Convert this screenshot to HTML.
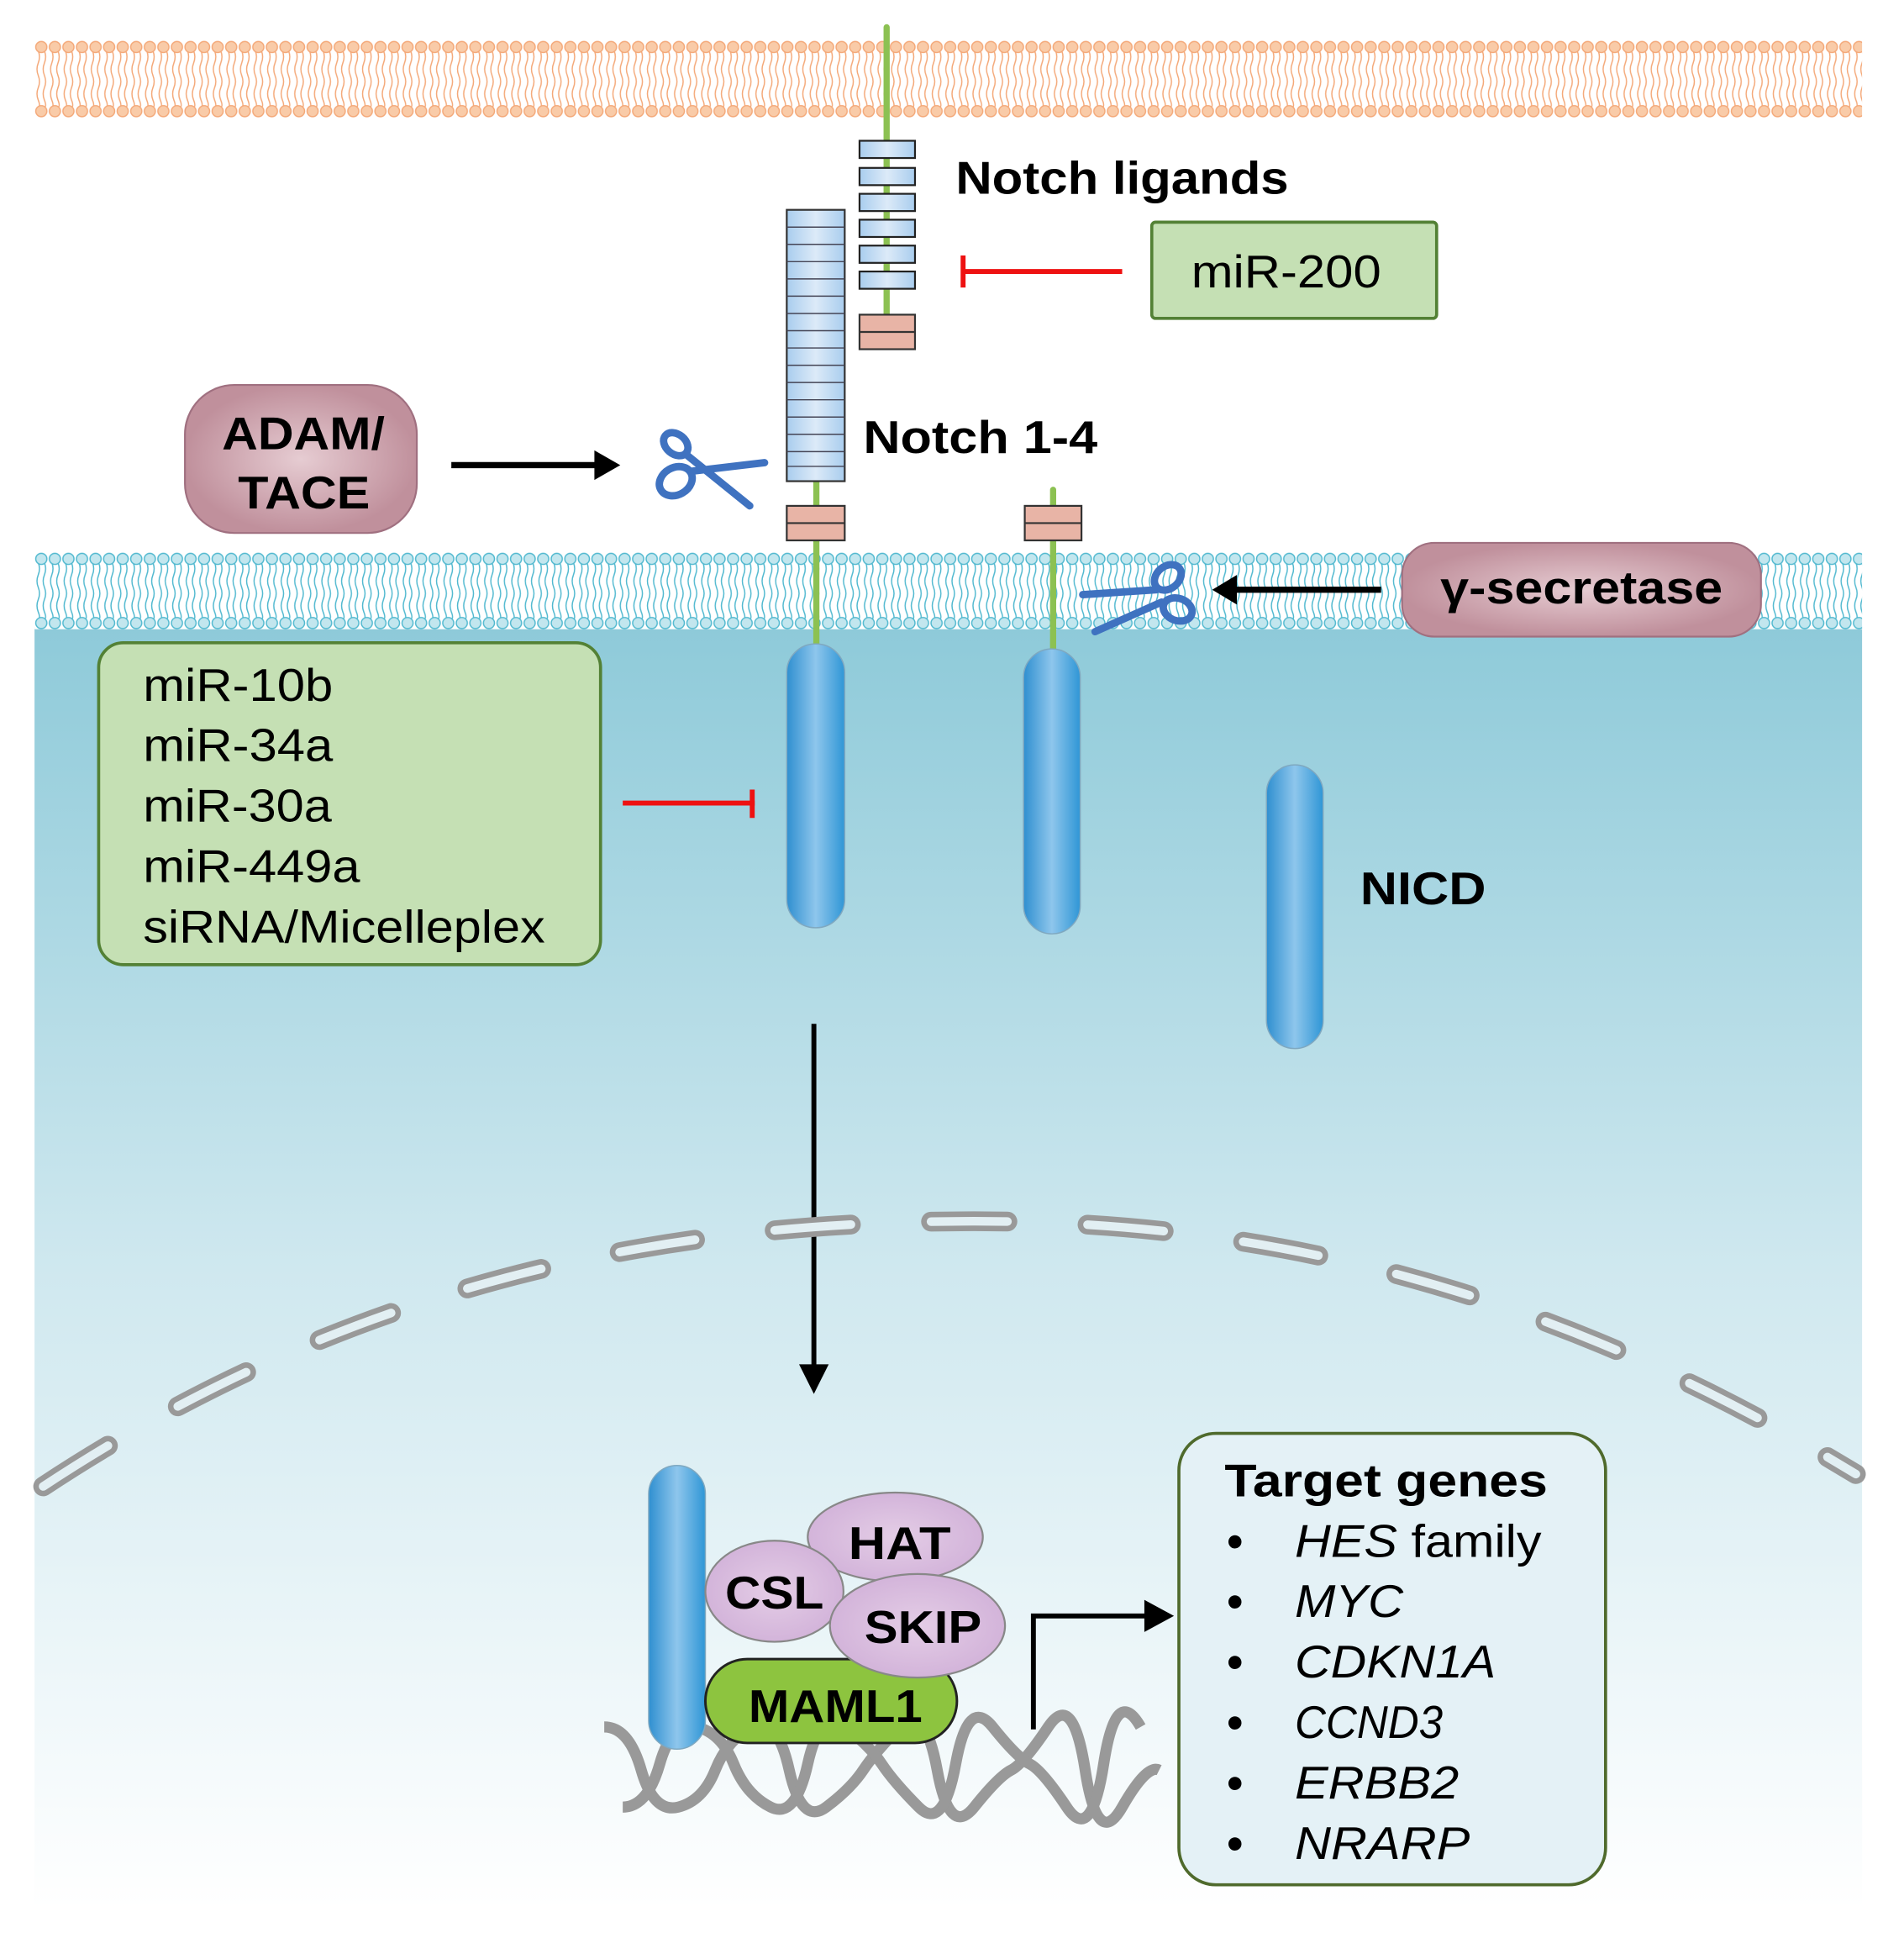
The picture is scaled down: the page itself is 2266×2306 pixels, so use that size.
<!DOCTYPE html>
<html><head><meta charset="utf-8"><style>html,body{margin:0;padding:0;background:#fff}svg{display:block}</style></head>
<body>
<svg width="2266" height="2306" viewBox="0 0 1544 1571" xmlns="http://www.w3.org/2000/svg" font-family="Liberation Sans, Arial, sans-serif">
<defs>
<linearGradient id="cyto" x1="0" y1="0" x2="0" y2="1">
<stop offset="0" stop-color="#8ecad9"/><stop offset="0.5" stop-color="#cfe8ef"/><stop offset="1" stop-color="#ffffff"/></linearGradient>
<pattern id="orm" x="28" y="33" width="11" height="62" patternUnits="userSpaceOnUse">
<path d="M3,8 q2,5 0,10 q-2,5 0,10 q2,5 0,10 q-2,5 0,10 q2,5 0,6 M8,8 q2,5 0,10 q-2,5 0,10 q2,5 0,10 q-2,5 0,10 q2,5 0,6" fill="none" stroke="#f4a878" stroke-width="1"/>
<circle cx="5.5" cy="5" r="4.5" fill="#f9cba8" stroke="#f4a878" stroke-width="1"/>
<circle cx="5.5" cy="57" r="4.5" fill="#f9cba8" stroke="#f4a878" stroke-width="1"/></pattern>
<pattern id="cym" x="28" y="448" width="11" height="62" patternUnits="userSpaceOnUse">
<path d="M3,8 q2,5 0,10 q-2,5 0,10 q2,5 0,10 q-2,5 0,10 q2,5 0,6 M8,8 q2,5 0,10 q-2,5 0,10 q2,5 0,10 q-2,5 0,10 q2,5 0,6" fill="none" stroke="#4fb8cf" stroke-width="1"/>
<circle cx="5.5" cy="5" r="4.5" fill="#c2e6ee" stroke="#4fb8cf" stroke-width="1"/>
<circle cx="5.5" cy="57" r="4.5" fill="#c2e6ee" stroke="#4fb8cf" stroke-width="1"/></pattern>
<linearGradient id="cap" x1="0" y1="0" x2="1" y2="0">
<stop offset="0" stop-color="#2f8fd0"/><stop offset="0.5" stop-color="#8ec6ec"/><stop offset="1" stop-color="#2f96d6"/></linearGradient>
<radialGradient id="mauve"><stop offset="0" stop-color="#e6ccd2"/><stop offset="1" stop-color="#c0909c"/></radialGradient>
<radialGradient id="lil"><stop offset="0" stop-color="#e4cde6"/><stop offset="1" stop-color="#d3b4da"/></radialGradient>
<linearGradient id="blk" x1="0" y1="0" x2="1" y2="0"><stop offset="0" stop-color="#a9cdee"/><stop offset="0.5" stop-color="#dceaf8"/><stop offset="1" stop-color="#a9cdee"/></linearGradient>
</defs>
<rect x="28" y="508" width="1482" height="1040" fill="url(#cyto)"/>
<rect x="28" y="33" width="1482" height="62" fill="url(#orm)"/>
<rect x="28" y="448" width="1482" height="62" fill="#ffffff"/>
<rect x="28" y="448" width="1482" height="62" fill="url(#cym)"/>

<line x1="719" y1="22" x2="719" y2="258" stroke="#8cc152" stroke-width="5" stroke-linecap="round"/>
<g stroke="#222" stroke-width="1.5" fill="url(#blk)">
<rect x="697" y="114" width="45" height="14"/><rect x="697" y="136" width="45" height="14"/>
<rect x="697" y="157" width="45" height="14"/><rect x="697" y="178" width="45" height="14"/>
<rect x="697" y="199" width="45" height="14"/><rect x="697" y="220" width="45" height="14"/></g>
<rect x="697" y="255" width="45" height="28" fill="#e8b4a6" stroke="#333" stroke-width="1.5"/>
<line x1="697" y1="269" x2="742" y2="269" stroke="#333" stroke-width="1.5"/>

<line x1="662" y1="388" x2="662" y2="525" stroke="#8cc152" stroke-width="5"/>
<rect x="638" y="170" width="47" height="220" fill="url(#blk)" stroke="#333" stroke-width="1.5"/>
<g stroke="#445" stroke-width="1">
<line x1="638" y1="184" x2="685" y2="184"/><line x1="638" y1="198" x2="685" y2="198"/><line x1="638" y1="212" x2="685" y2="212"/><line x1="638" y1="226" x2="685" y2="226"/><line x1="638" y1="240" x2="685" y2="240"/><line x1="638" y1="254" x2="685" y2="254"/><line x1="638" y1="268" x2="685" y2="268"/><line x1="638" y1="282" x2="685" y2="282"/><line x1="638" y1="296" x2="685" y2="296"/><line x1="638" y1="310" x2="685" y2="310"/><line x1="638" y1="324" x2="685" y2="324"/><line x1="638" y1="338" x2="685" y2="338"/><line x1="638" y1="352" x2="685" y2="352"/><line x1="638" y1="366" x2="685" y2="366"/><line x1="638" y1="378" x2="685" y2="378"/></g>
<rect x="638" y="410" width="47" height="28" fill="#e8b4a6" stroke="#333" stroke-width="1.5"/>
<line x1="638" y1="424" x2="685" y2="424" stroke="#333" stroke-width="1.5"/>
<line x1="854" y1="397" x2="854" y2="527" stroke="#8cc152" stroke-width="5" stroke-linecap="round"/>
<rect x="831" y="410" width="46" height="28" fill="#e8b4a6" stroke="#333" stroke-width="1.5"/>
<line x1="831" y1="424" x2="877" y2="424" stroke="#333" stroke-width="1.5"/>

<rect x="638" y="522" width="47" height="230" rx="23" fill="url(#cap)" stroke="#7fa8c0" stroke-width="1"/>
<rect x="830" y="526" width="46" height="231" rx="23" fill="url(#cap)" stroke="#7fa8c0" stroke-width="1"/>
<rect x="1027" y="620" width="46" height="230" rx="23" fill="url(#cap)" stroke="#7fa8c0" stroke-width="1"/>

<text x="775" y="157" font-size="37" font-weight="bold" textLength="270" lengthAdjust="spacingAndGlyphs">Notch ligands</text>
<text x="700" y="367" font-size="37" font-weight="bold" textLength="190" lengthAdjust="spacingAndGlyphs">Notch 1-4</text>
<text x="1103" y="733" font-size="37" font-weight="bold" textLength="102" lengthAdjust="spacingAndGlyphs">NICD</text>

<rect x="934" y="180" width="231" height="78" rx="3" fill="#c5e0b4" stroke="#538135" stroke-width="2.5"/>
<text x="966" y="233" font-size="37" textLength="154" lengthAdjust="spacingAndGlyphs">miR-200</text>
<line x1="780" y1="220" x2="910" y2="220" stroke="#e11" stroke-width="4"/>
<line x1="781" y1="207" x2="781" y2="233" stroke="#e11" stroke-width="4"/>

<rect x="150" y="312" width="188" height="120" rx="40" fill="url(#mauve)" stroke="#a07080" stroke-width="1.5"/>
<text x="180" y="364" font-size="37" font-weight="bold" textLength="132" lengthAdjust="spacingAndGlyphs">ADAM/</text>
<text x="193" y="412" font-size="37" font-weight="bold" textLength="107" lengthAdjust="spacingAndGlyphs">TACE</text>
<line x1="366" y1="377" x2="485" y2="377" stroke="#000" stroke-width="5"/>
<polygon points="482,365 503,377 482,389" fill="#000"/>

<g stroke="#3f72c0" stroke-width="6" fill="none" stroke-linecap="round">
<ellipse cx="548" cy="390" rx="14" ry="11" transform="rotate(-30 548 390)"/>
<ellipse cx="548" cy="360" rx="11" ry="8" transform="rotate(40 548 360)"/>
<path d="M560,382 L620,375"/><path d="M556,368 L608,410"/></g>
<g stroke="#3f72c0" stroke-width="6" fill="none" stroke-linecap="round">
<ellipse cx="947" cy="468" rx="12" ry="9" transform="rotate(-40 947 468)"/>
<ellipse cx="955" cy="494" rx="12" ry="9" transform="rotate(20 955 494)"/>
<path d="M938,478 L878,482"/><path d="M942,488 L888,512"/></g>

<rect x="1137" y="440" width="291" height="76" rx="26" fill="url(#mauve)" stroke="#a07080" stroke-width="1.5"/>
<text x="1168" y="489" font-size="37" font-weight="bold" textLength="229" lengthAdjust="spacingAndGlyphs">γ-secretase</text>
<line x1="1120" y1="478" x2="1000" y2="478" stroke="#000" stroke-width="5"/>
<polygon points="1003,466 983,478 1003,490" fill="#000"/>

<rect x="80" y="521" width="407" height="261" rx="20" fill="#c5e0b4" stroke="#538135" stroke-width="2.5"/>
<g font-size="37">
<text x="116" y="568" textLength="154" lengthAdjust="spacingAndGlyphs">miR-10b</text>
<text x="116" y="617" textLength="154" lengthAdjust="spacingAndGlyphs">miR-34a</text>
<text x="116" y="666" textLength="153" lengthAdjust="spacingAndGlyphs">miR-30a</text>
<text x="116" y="715" textLength="176" lengthAdjust="spacingAndGlyphs">miR-449a</text>
<text x="116" y="764" textLength="326" lengthAdjust="spacingAndGlyphs">siRNA/Micelleplex</text></g>
<line x1="505" y1="651" x2="612" y2="651" stroke="#e11" stroke-width="4"/>
<line x1="610" y1="640" x2="610" y2="663" stroke="#e11" stroke-width="4"/>

<line x1="660" y1="830" x2="660" y2="1110" stroke="#000" stroke-width="4"/>
<polygon points="648,1106 660,1130 672,1106" fill="#000"/>

<path d="M35,1205 C300,1030 560,990 790,990 C1020,990 1250,1040 1505,1195" fill="none" stroke="#999" stroke-width="16" stroke-dasharray="62 65" stroke-linecap="round"/>
<path d="M35,1205 C300,1030 560,990 790,990 C1020,990 1250,1040 1505,1195" fill="none" stroke="#e2eff3" stroke-width="7" stroke-dasharray="62 65" stroke-linecap="round"/>

<g fill="none" stroke="#999" stroke-width="9">
<path d="M490,1400 q20,0 30,35 t30,30 t30,-30 t30,-35 t30,35 t30,30 t30,-30 t30,-35 t30,35 t30,30 t30,-30 t30,-35 t30,35 t30,30 t30,-30"/>
<path d="M505,1465 q20,0 30,-35 t30,-30 t30,30 t30,35 t30,-35 t30,-30 t30,30 t30,35 t30,-35 t30,-30 t30,30 t30,35 t30,-35 t30,-30"/></g>

<rect x="526" y="1188" width="46" height="230" rx="23" fill="url(#cap)" stroke="#7fa8c0"/>
<ellipse cx="726" cy="1246" rx="71" ry="36" fill="url(#lil)" stroke="#888" stroke-width="1.5"/>
<ellipse cx="628" cy="1290" rx="56" ry="41" fill="url(#lil)" stroke="#888" stroke-width="1.5"/>
<rect x="572" y="1345" width="204" height="68" rx="34" fill="#8dc43f" stroke="#222" stroke-width="2"/>
<ellipse cx="744" cy="1318" rx="71" ry="42" fill="url(#lil)" stroke="#888" stroke-width="1.5"/>
<g font-size="37" font-weight="bold">
<text x="688" y="1264" textLength="83" lengthAdjust="spacingAndGlyphs">HAT</text>
<text x="588" y="1304" textLength="80" lengthAdjust="spacingAndGlyphs">CSL</text>
<text x="701" y="1332" textLength="95" lengthAdjust="spacingAndGlyphs">SKIP</text>
<text x="607" y="1396" textLength="141" lengthAdjust="spacingAndGlyphs">MAML1</text></g>

<polyline points="838,1402 838,1310 932,1310" fill="none" stroke="#000" stroke-width="4"/>
<polygon points="928,1297 952,1310 928,1323" fill="#000"/>

<rect x="956" y="1162" width="346" height="366" rx="30" fill="#e4f1f6" stroke="#4f6a2c" stroke-width="2.5"/>
<text x="993" y="1213" font-size="37" font-weight="bold" textLength="262" lengthAdjust="spacingAndGlyphs">Target genes</text>
<g font-size="37"><g font-weight="bold">
<text x="995" y="1262">•</text><text x="995" y="1311">•</text><text x="995" y="1360">•</text><text x="995" y="1409">•</text><text x="995" y="1458">•</text><text x="995" y="1507">•</text></g>
<g font-style="italic"><text x="1050" y="1262" textLength="200" lengthAdjust="spacingAndGlyphs"><tspan>HES</tspan><tspan font-style="normal"> family</tspan></text>
<text x="1050" y="1311" textLength="88" lengthAdjust="spacingAndGlyphs">MYC</text>
<text x="1050" y="1360" textLength="163" lengthAdjust="spacingAndGlyphs">CDKN1A</text>
<text x="1050" y="1409" textLength="120" lengthAdjust="spacingAndGlyphs">CCND3</text>
<text x="1050" y="1458" textLength="133" lengthAdjust="spacingAndGlyphs">ERBB2</text>
<text x="1050" y="1507" textLength="142" lengthAdjust="spacingAndGlyphs">NRARP</text></g></g>
</svg>
</body></html>
